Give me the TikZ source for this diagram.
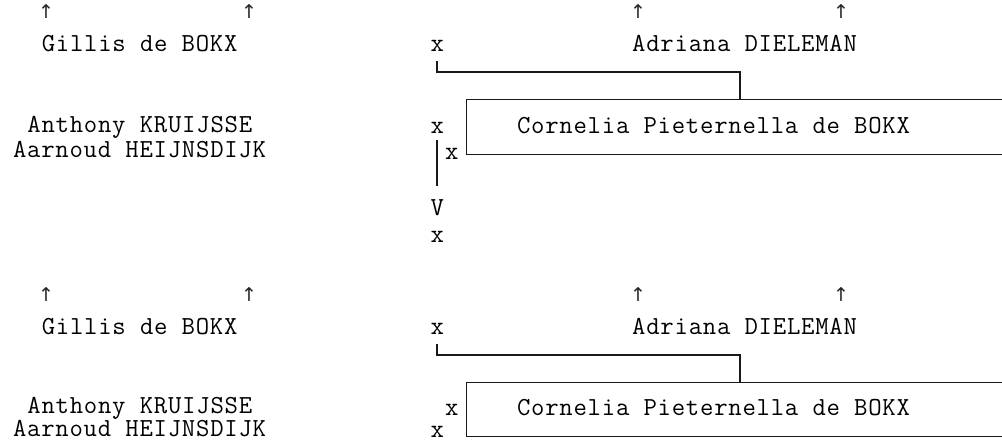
\documentclass[tikz,border=0pt]{standalone}
\usepackage{fontspec}
\newfontfamily\cour[LetterSpace=2.9]{Latin Modern Mono}
\newfontfamily\arrfont{DejaVu Sans}
\begin{document}
\begin{tikzpicture}[x=1pt,y=-1pt,
  t/.style={font=\cour\fontsize{26}{30}\selectfont, inner sep=0pt, outer sep=0pt, anchor=base west, text=black},
  arr/.style={font=\arrfont\fontsize{19}{22}\selectfont, inner sep=0pt, anchor=center, text=black!85},
  ln/.style={line width=1.7pt, draw=black!90},
  boxframe/.style={ln, rectangle, inner sep=0pt, outer sep=0pt, anchor=north west, minimum width=600pt}
]
\clip (0,0) rectangle (1002,442);
\fill[white] (0,0) rectangle (1002,442);

% ---------- block 1 ----------
\node[arr] (a1) at (46,12) {↑};
\node[arr] (a2) at (249,12) {↑};
\node[arr] (a3) at (638,12) {↑};
\node[arr] (a4) at (841,12) {↑};
\node[t] (g1) at (41.8,51) {Gillis de BOKX};
\node[t] (xa1) at (430.6,51) {x};
\node[t] (ad1) at (632.2,51) {Adriana DIELEMAN};
\node[t] (an1) at (27.4,132) {Anthony KRUIJSSE};
\node[t] (aa1) at (13,157) {Aarnoud HEIJNSDIJK};
\node[t] (xb1) at (430.6,133) {x};
\node[t] (xc1) at (445,159) {x};
\node[t] (v1) at (430.6,215) {V};
\node[t] (xd1) at (430.6,242) {x};
\node[boxframe, draw, minimum height=55pt] (box1) at (466.6,99.5) {};
\node[t] (c1) at (517,133) {Cornelia Pieternella de BOKX};
\coordinate (turn1) at (740.2,72);
\draw[ln] ([yshift=-10pt]xa1.south) |- (turn1) -- (turn1 |- box1.north);
\draw[ln] ([yshift=-7pt]xb1.south) -- ([yshift=13pt]v1.north);

% ---------- block 2 ----------
\node[arr] (a5) at (46,295) {↑};
\node[arr] (a6) at (249,295) {↑};
\node[arr] (a7) at (638,295) {↑};
\node[arr] (a8) at (841,295) {↑};
\node[t] (g2) at (41.8,334) {Gillis de BOKX};
\node[t] (xa2) at (430.6,334) {x};
\node[t] (ad2) at (632.2,334) {Adriana DIELEMAN};
\node[t] (an2) at (27.4,413) {Anthony KRUIJSSE};
\node[t] (aa2) at (13,436.5) {Aarnoud HEIJNSDIJK};
\node[t] (xb2) at (445,415) {x};
\node[t] (xc2) at (430.6,437) {x};
\node[boxframe, draw, minimum height=54pt] (box2) at (466.6,382.5) {};
\node[t] (c2) at (517,415) {Cornelia Pieternella de BOKX};
\coordinate (turn2) at (740.2,355);
\draw[ln] ([yshift=-10pt]xa2.south) |- (turn2) -- (turn2 |- box2.north);
\end{tikzpicture}
\end{document}
